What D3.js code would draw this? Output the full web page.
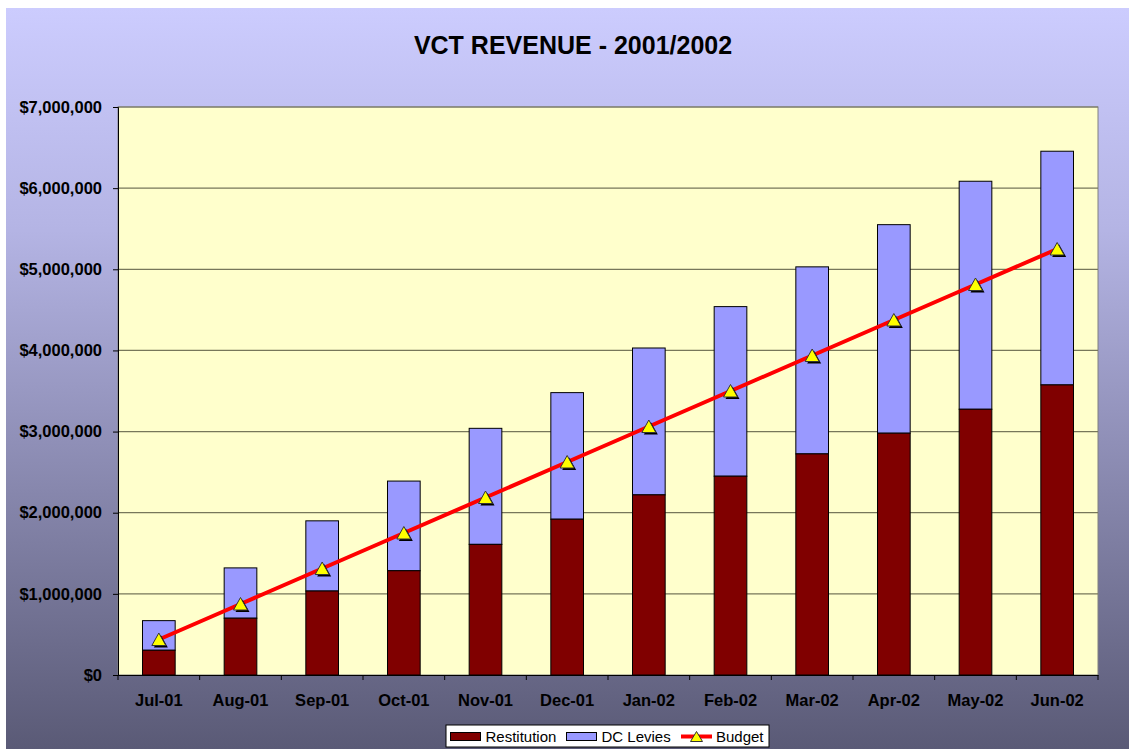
<!DOCTYPE html>
<html>
<head>
<meta charset="utf-8">
<script src="https://cdn.jsdelivr.net/npm/d3@7"></script>
<style>
  body { margin: 0; background: #fff; }
  svg { display: block; font-family: "Liberation Sans", Arial, sans-serif; }
</style>
</head>
<body>
<svg class="chart"></svg>
<script>
let months = ["Jul-01", "Aug-01", "Sep-01", "Oct-01", "Nov-01", "Dec-01",
              "Jan-02", "Feb-02", "Mar-02", "Apr-02", "May-02", "Jun-02"];
let restitution = [305000, 700000, 1035000, 1285000, 1610000, 1920000,
                   2220000, 2450000, 2725000, 2980000, 3275000, 3575000];
let dcLevies = [365000, 620000, 865000, 1105000, 1430000, 1560000,
                1810000, 2090000, 2305000, 2570000, 2810000, 2880000];
let budget = [437500, 875000, 1312500, 1750000, 2187500, 2625000,
              3062500, 3500000, 3937500, 4375000, 4812500, 5250000];
let yTicks = [0, 1000000, 2000000, 3000000, 4000000, 5000000, 6000000, 7000000];

let W = 1129, H = 749;
let pLeft = 118, pRight = 1098, pTop = 107, pBottom = 675;

var svg = d3.select(".chart")
            .attr("width", W)
            .attr("height", H);

var grad = svg.append("defs").append("linearGradient")
              .attr("id", "bg")
              .attr("x1", 0).attr("y1", 0).attr("x2", 0).attr("y2", 1);
grad.append("stop").attr("offset", "0%").attr("stop-color", "#ccccfe");
grad.append("stop").attr("offset", "30%").attr("stop-color", "#b4b4e4");
grad.append("stop").attr("offset", "100%").attr("stop-color", "#5a5a76");

svg.append("rect")
   .attr("x", 6).attr("y", 8)
   .attr("width", W - 6).attr("height", H - 8)
   .attr("fill", "url(#bg)");

var xOuter = d3.scaleBand().domain(months).range([pLeft, pRight]).padding(0);
var xBar = d3.scaleBand().domain(months).range([pLeft, pRight])
             .paddingInner(0.6).paddingOuter(0.3);
var y = d3.scaleLinear().domain([0, 7000000]).range([pBottom, pTop]);

// plot area
svg.append("rect")
   .attr("x", pLeft).attr("y", pTop)
   .attr("width", pRight - pLeft).attr("height", pBottom - pTop)
   .attr("fill", "#ffffcc")
   .attr("stroke", "#808080")
   .attr("stroke-width", 1);

svg.append("g")
   .selectAll("line")
   .data(yTicks.filter(d => d > 0))
   .enter().append("line")
   .attr("x1", pLeft).attr("x2", pRight)
   .attr("y1", d => y(d)).attr("y2", d => y(d))
   .attr("stroke", "#77775a")
   .attr("stroke-width", 1.2);

var stacked = months.map((m, i) => ({m: m, r: restitution[i], dc: dcLevies[i]}));

var bars = svg.append("g");
bars.selectAll(".dc")
    .data(stacked)
    .enter().append("rect")
    .attr("class", "dc")
    .attr("x", d => xBar(d.m))
    .attr("y", d => y(d.r + d.dc))
    .attr("width", xBar.bandwidth())
    .attr("height", d => y(d.r) - y(d.r + d.dc))
    .attr("fill", "#9999ff")
    .attr("stroke", "#000")
    .attr("stroke-width", 1);

bars.selectAll(".rest")
    .data(stacked)
    .enter().append("rect")
    .attr("class", "rest")
    .attr("x", d => xBar(d.m))
    .attr("y", d => y(d.r))
    .attr("width", xBar.bandwidth())
    .attr("height", d => y(0) - y(d.r))
    .attr("fill", "#800000")
    .attr("stroke", "#000")
    .attr("stroke-width", 1);

// axes
svg.append("g")
   .attr("transform", "translate(" + pLeft + ",0)")
   .call(d3.axisLeft(y).tickValues(yTicks).tickFormat(d3.format("$,")).tickSize(5).tickPadding(11))
   .call(g => g.selectAll("text").style("font-size", "16.5px").style("font-weight", "bold").attr("fill", "#000"))
   .call(g => g.selectAll("line, path").attr("stroke", "#000"));

svg.append("g")
   .attr("transform", "translate(0," + pBottom + ")")
   .call(d3.axisBottom(xOuter).tickSize(0).tickPadding(19))
   .call(g => g.select(".domain").attr("stroke", "#000"))
   .call(g => g.selectAll("text").style("font-size", "16.5px").style("font-weight", "bold").attr("fill", "#000"));

svg.append("g")
   .selectAll("line")
   .data(months.map(m => xOuter(m)).concat([pRight]))
   .enter().append("line")
   .attr("x1", d => d).attr("x2", d => d)
   .attr("y1", pBottom).attr("y2", pBottom + 5)
   .attr("stroke", "#000");

// budget line
var line = d3.line()
             .x((d, i) => xOuter(months[i]) + xOuter.bandwidth() / 2)
             .y(d => y(d));

svg.append("path")
   .datum(budget)
   .attr("d", line)
   .attr("fill", "none")
   .attr("stroke", "#ff0000")
   .attr("stroke-width", 4);

var tri = "M0,-6.5L7,6L-7,6Z";
var marks = svg.append("g");
marks.selectAll(".shadow")
     .data(budget)
     .enter().append("path")
     .attr("class", "shadow")
     .attr("d", tri)
     .attr("transform", (d, i) => "translate(" + (xOuter(months[i]) + xOuter.bandwidth() / 2 + 2) + "," + (y(d) + 2) + ")")
     .attr("fill", "#000");
marks.selectAll(".tri")
     .data(budget)
     .enter().append("path")
     .attr("class", "tri")
     .attr("d", tri)
     .attr("transform", (d, i) => "translate(" + (xOuter(months[i]) + xOuter.bandwidth() / 2) + "," + y(d) + ")")
     .attr("fill", "#ffff00")
     .attr("stroke", "#333")
     .attr("stroke-width", 1);

// title
svg.append("text")
   .attr("x", 573)
   .attr("y", 54)
   .attr("text-anchor", "middle")
   .style("font-size", "25px")
   .style("font-weight", "bold")
   .text("VCT REVENUE - 2001/2002");

// legend
var legend = svg.append("g");
legend.append("rect")
      .attr("x", 446).attr("y", 725)
      .attr("width", 323).attr("height", 22)
      .attr("fill", "#fff")
      .attr("stroke", "#000");

legend.append("rect")
      .attr("x", 450.5).attr("y", 732.5).attr("width", 30).attr("height", 8)
      .attr("fill", "#800000").attr("stroke", "#000");
legend.append("text")
      .attr("x", 485.5).attr("y", 742)
      .style("font-size", "15px")
      .text("Restitution");

legend.append("rect")
      .attr("x", 566.5).attr("y", 732.5).attr("width", 30).attr("height", 8)
      .attr("fill", "#9999ff").attr("stroke", "#000");
legend.append("text")
      .attr("x", 601.5).attr("y", 742)
      .style("font-size", "15px")
      .text("DC Levies");

legend.append("line")
      .attr("x1", 681).attr("x2", 712)
      .attr("y1", 736.5).attr("y2", 736.5)
      .attr("stroke", "#ff0000").attr("stroke-width", 4);
legend.append("path")
      .attr("d", "M0,-5L6,5L-6,5Z")
      .attr("transform", "translate(696.5,736.5)")
      .attr("fill", "#ffff00").attr("stroke", "#333");
legend.append("text")
      .attr("x", 716).attr("y", 742)
      .style("font-size", "15px")
      .text("Budget");
</script>
</body>
</html>
